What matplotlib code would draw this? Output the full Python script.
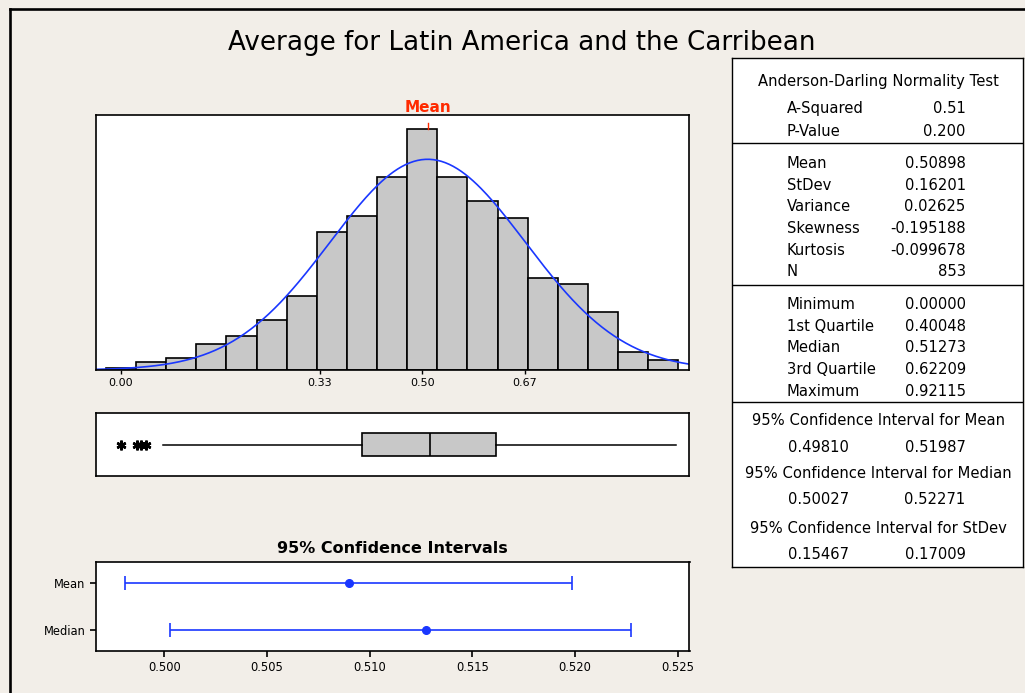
import numpy as np
import matplotlib.pyplot as plt
from matplotlib.lines import Line2D
import matplotlib.transforms as mtransforms

plt.rcParams['font.family'] = 'DejaVu Sans'

# histogram: counts per 0.05-wide bin
bin_edges = np.linspace(-0.025, 0.925, 20)
counts = [1, 4, 6, 13, 17, 25, 37, 69, 77, 96, 120, 96, 84, 76, 46, 43, 29, 9, 5]
hist_ticks = [0.0, 0.33, 0.50, 0.67]
hist_ticklabels = ['0.00', '0.33', '0.50', '0.67']

mean = 0.50898
stdev = 0.16201
n_obs = 853

# box plot
q1, median, q3 = 0.40048, 0.51273, 0.62209
whisker_lo, whisker_hi = 0.070, 0.92115
outliers = [0.001, 0.027, 0.034, 0.041]

# 95% confidence intervals
ci_names = ['Mean', 'Median']
ci_centers = [0.50898, 0.51273]
ci_low = [0.49810, 0.50027]
ci_high = [0.51987, 0.52271]
ci_ticks = [0.500, 0.505, 0.510, 0.515, 0.520, 0.525]

# summary table
ad_rows = [('A-Squared', '0.51'), ('P-Value', '0.200')]
moment_rows = [('Mean', '0.50898'), ('StDev', '0.16201'), ('Variance', '0.02625'),
               ('Skewness', '-0.195188'), ('Kurtosis', '-0.099678'), ('N', '853')]
quantile_rows = [('Minimum', '0.00000'), ('1st Quartile', '0.40048'),
                 ('Median', '0.51273'), ('3rd Quartile', '0.62209'),
                 ('Maximum', '0.92115')]
ci_rows = [('95% Confidence Interval for Mean', '0.49810', '0.51987'),
           ('95% Confidence Interval for Median', '0.50027', '0.52271'),
           ('95% Confidence Interval for StDev', '0.15467', '0.17009')]

bg = '#f2eee8'
bar_grey = '#c8c8c8'
blue = '#1a37ff'
W, H = 1025, 693

fig = plt.figure(figsize=(W / 100, H / 100), dpi=100, facecolor=bg)


def px_axes(x0, y0, x1, y1):
    return fig.add_axes([x0 / W, 1 - y1 / H, (x1 - x0) / W, (y1 - y0) / H])


# outer frame (top and left edges)
fig.add_artist(Line2D([10 / W, 10 / W], [0, 1 - 9 / H], color='black', lw=1.9,
                      transform=fig.transFigure))
fig.add_artist(Line2D([10 / W, 1], [1 - 9 / H, 1 - 9 / H], color='black', lw=1.9,
                      transform=fig.transFigure))

fig.text(521.5 / W, 1 - 50 / H, 'Average for Latin America and the Carribean',
         ha='center', va='baseline', fontsize=18.8)

xlim_hist = (-0.0413, 0.9433)

# histogram
ax = px_axes(96, 115, 689.5, 370)
ax.bar(bin_edges[:-1], counts, width=np.diff(bin_edges), align='edge',
       color=bar_grey, edgecolor='black', linewidth=1.2)
xs = np.linspace(xlim_hist[0], xlim_hist[1], 300)
pdf = n_obs * 0.05 * np.exp(-0.5 * ((xs - mean) / stdev) ** 2) / (stdev * np.sqrt(2 * np.pi))
ax.plot(xs, pdf, color=blue, lw=1.2)
ax.set_xlim(*xlim_hist)
ax.set_ylim(0, 127.1)
ax.set_yticks([])
ax.set_xticks(hist_ticks)
ax.set_xticklabels(hist_ticklabels, fontsize=8)
ax.tick_params(axis='x', length=3, width=1, pad=3)
trans = mtransforms.blended_transform_factory(ax.transData, ax.transAxes)
ax.plot([mean, mean], [0.945, 0.967], color='#ff2a00', lw=1, transform=trans)
ax.text(mean, 1.0, 'Mean', transform=trans, ha='center', va='bottom',
        color='#ff2a00', fontsize=11, fontweight='bold')
for s in ax.spines.values():
    s.set_linewidth(1.2)

# box plot
axb = px_axes(96, 413.3, 689.5, 476)
stats = [{'med': median, 'q1': q1, 'q3': q3, 'whislo': whisker_lo,
          'whishi': whisker_hi, 'fliers': outliers}]
axb.bxp(stats, positions=[1], widths=0.356, orientation='horizontal',
        showcaps=False, patch_artist=True,
        boxprops=dict(facecolor=bar_grey, edgecolor='black', linewidth=1.2),
        medianprops=dict(color='black', linewidth=1.2),
        whiskerprops=dict(color='black', linewidth=1.1),
        flierprops=dict(marker=(6, 2, 0), markeredgecolor='black',
                        markersize=7, markeredgewidth=1.8, linestyle='none'))
axb.set_xlim(*xlim_hist)
axb.set_ylim(0.5, 1.5)
axb.set_xticks([])
axb.set_yticks([])
for s in axb.spines.values():
    s.set_linewidth(1.2)

# confidence intervals
axc = px_axes(96, 562.3, 689.5, 650.7)
ypos = [2, 1]
xerr = [np.array(ci_centers) - np.array(ci_low), np.array(ci_high) - np.array(ci_centers)]
axc.errorbar(ci_centers, ypos, xerr=xerr, fmt='o', color=blue, ecolor=blue,
             markersize=5.5, elinewidth=1.2, capsize=5, capthick=1.2)
axc.set_xlim(0.49668, 0.52558)
axc.set_ylim(0.54, 2.46)
axc.set_yticks(ypos)
axc.set_yticklabels(ci_names, fontsize=8.3)
axc.set_xticks(ci_ticks)
axc.set_xticklabels(['%.3f' % t for t in ci_ticks], fontsize=8.3)
axc.tick_params(length=4, width=1.2, pad=3.5)
for s in axc.spines.values():
    s.set_linewidth(1.2)
axc.set_title('95% Confidence Intervals', fontsize=11.5, fontweight='bold', pad=7)

# summary table
axt = px_axes(732.3, 58.3, 1023, 566.7)
axt.set_xlim(0, 290.7)
axt.set_ylim(508.4, 0)
axt.set_xticks([])
axt.set_yticks([])
for s in axt.spines.values():
    s.set_linewidth(1.0)
axt.set_facecolor('white')

fs = 10.6
lab_x, val_x, mid_x = 54.4, 233.4, 146
axt.text(mid_x, 22.7, 'Anderson-Darling Normality Test', ha='center', va='center', fontsize=fs)
y = 50
for lab, val in ad_rows:
    axt.text(lab_x, y, lab, ha='left', va='center', fontsize=fs)
    axt.text(val_x, y, val, ha='right', va='center', fontsize=fs)
    y += 22.7
axt.axhline(85, color='black', lw=1.0)
y = 105
for lab, val in moment_rows:
    axt.text(lab_x, y, lab, ha='left', va='center', fontsize=fs)
    axt.text(val_x, y, val, ha='right', va='center', fontsize=fs)
    y += 21.7
axt.axhline(227, color='black', lw=1.0)
y = 246
for lab, val in quantile_rows:
    axt.text(lab_x, y, lab, ha='left', va='center', fontsize=fs)
    axt.text(val_x, y, val, ha='right', va='center', fontsize=fs)
    y += 21.7
axt.axhline(344, color='black', lw=1.0)
head_y = [362.4, 415, 470]
for (head, lo, hi), y in zip(ci_rows, head_y):
    axt.text(mid_x, y, head, ha='center', va='center', fontsize=fs)
    axt.text(lab_x + 1, y + 26.5, lo, ha='left', va='center', fontsize=fs)
    axt.text(val_x, y + 26.5, hi, ha='right', va='center', fontsize=fs)

fig.savefig('out.png', dpi=100, facecolor=bg)
